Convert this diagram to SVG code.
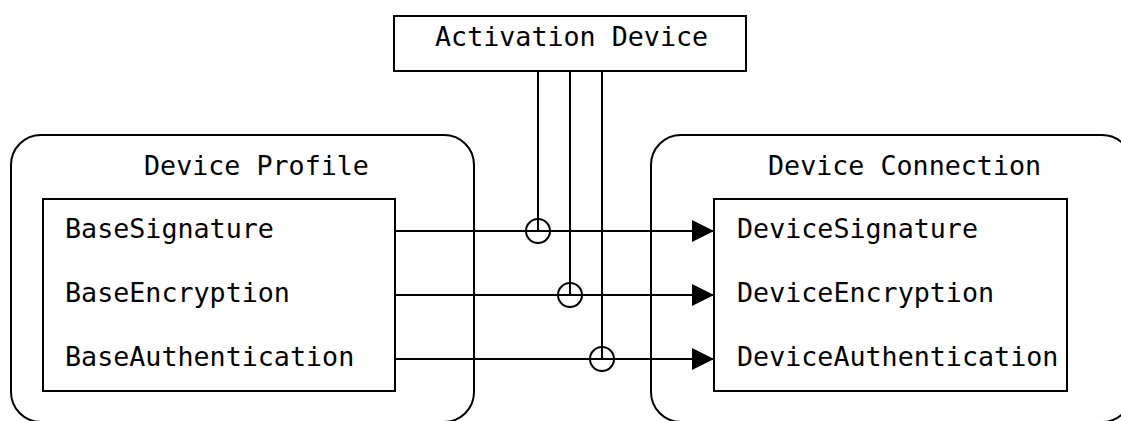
<svg xmlns="http://www.w3.org/2000/svg" width="1121" height="421" viewBox="0 0 1121 421">
  <style>
    .box { fill: #ffffff; stroke: #000000; stroke-width: 2; }
    .txt { font-family: "DejaVu Sans Mono", "Liberation Mono", monospace; font-size: 26.7px; fill: #000000; }
    .wire { fill: none; stroke: #000000; stroke-width: 2; }
    .hop { fill: none; stroke: #000000; stroke-width: 2; }
  </style>
  <defs>
    <marker id="arrow" markerUnits="userSpaceOnUse" markerWidth="23" markerHeight="23" refX="22" refY="11" orient="auto">
      <path d="M0,0 L22,11 L0,22 Z" fill="#000000"/>
    </marker>
  </defs>

  <rect width="1121" height="421" fill="#ffffff"/>

  <!-- Device Profile container -->
  <g id="device-profile">
    <rect class="box" x="11" y="135" width="463" height="287" rx="30" ry="30"/>
    <text class="txt" x="144" y="175">Device Profile</text>
    <g id="base-fields">
      <rect class="box" x="43" y="199" width="352" height="192"/>
      <text class="txt" x="65" y="238">BaseSignature</text>
      <text class="txt" x="65" y="302">BaseEncryption</text>
      <text class="txt" x="65" y="366">BaseAuthentication</text>
    </g>
  </g>

  <!-- Device Connection container -->
  <g id="device-connection">
    <rect class="box" x="651" y="135" width="481" height="287" rx="30" ry="30"/>
    <text class="txt" x="768" y="175">Device Connection</text>
    <g id="device-fields">
      <rect class="box" x="714" y="199" width="353" height="192"/>
      <text class="txt" x="737" y="238">DeviceSignature</text>
      <text class="txt" x="737" y="302">DeviceEncryption</text>
      <text class="txt" x="737" y="366">DeviceAuthentication</text>
    </g>
  </g>

  <!-- Activation Device -->
  <g id="activation-device">
    <rect class="box" x="394" y="16" width="352" height="55"/>
    <text class="txt" x="435" y="46">Activation Device</text>
  </g>

  <!-- Connectors -->
  <g id="connectors">
    <line class="wire" x1="395" y1="231" x2="714" y2="231" marker-end="url(#arrow)"/>
    <line class="wire" x1="395" y1="295" x2="714" y2="295" marker-end="url(#arrow)"/>
    <line class="wire" x1="395" y1="359" x2="714" y2="359" marker-end="url(#arrow)"/>

    <line class="wire" x1="538" y1="71" x2="538" y2="231"/>
    <line class="wire" x1="570" y1="71" x2="570" y2="295"/>
    <line class="wire" x1="602" y1="71" x2="602" y2="359"/>

    <circle class="hop" cx="538" cy="231" r="12"/>
    <circle class="hop" cx="570" cy="295" r="12"/>
    <circle class="hop" cx="602" cy="359" r="12"/>
  </g>
</svg>
